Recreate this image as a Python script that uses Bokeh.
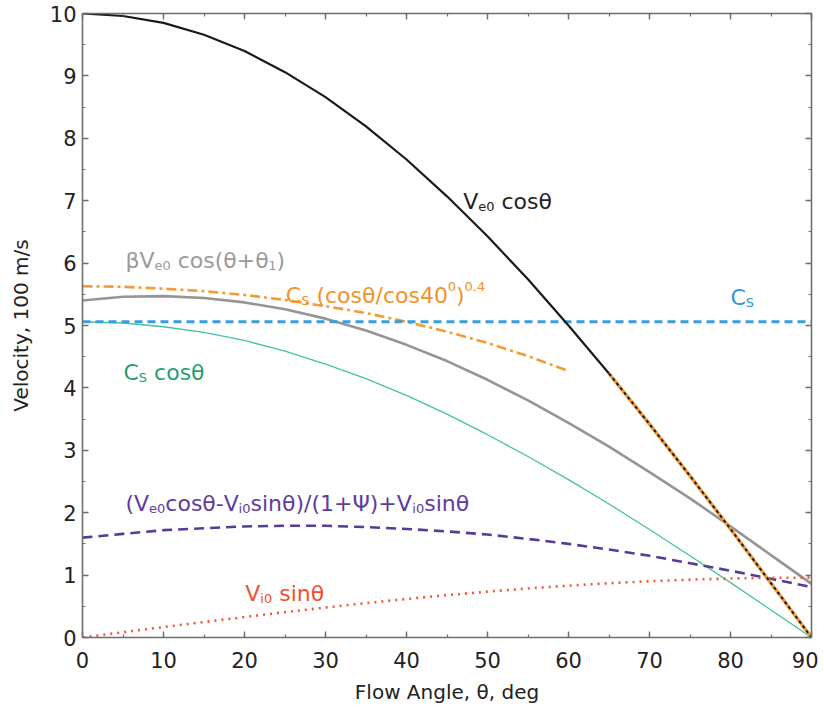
from bokeh.plotting import figure
from bokeh.models import LinearAxis, ColumnDataSource, Range1d, SingleIntervalTicker, CustomJSTickFormatter
from bokeh.embed import file_html
from bokeh.resources import INLINE
from bokeh.core.properties import value

# ---------------- data ----------------
theta = [0, 5, 10, 15, 20, 25, 30, 35, 40, 45, 50, 55, 60, 65, 70, 75, 80, 85, 90]
ve0_cos = [10.0, 9.96, 9.85, 9.66, 9.40, 9.06, 8.66, 8.19, 7.66, 7.07, 6.43, 5.74, 5.00,
           4.23, 3.42, 2.59, 1.74, 0.87, 0.0]
beta_ve0 = [5.40, 5.46, 5.47, 5.44, 5.37, 5.26, 5.11, 4.92, 4.69, 4.43, 4.13, 3.80, 3.44,
            3.06, 2.65, 2.23, 1.78, 1.32, 0.86]
cs_cos = [5.06, 5.04, 4.98, 4.89, 4.76, 4.59, 4.38, 4.15, 3.88, 3.58, 3.25, 2.90, 2.53,
          2.14, 1.73, 1.31, 0.88, 0.44, 0.0]
mixed = [1.60, 1.66, 1.72, 1.75, 1.78, 1.79, 1.79, 1.77, 1.74, 1.70, 1.65, 1.58, 1.50,
         1.41, 1.31, 1.19, 1.07, 0.94, 0.81]
vi0_sin = [0.0, 0.084, 0.167, 0.248, 0.328, 0.406, 0.48, 0.551, 0.617, 0.679, 0.735,
           0.786, 0.831, 0.870, 0.902, 0.927, 0.945, 0.956, 0.96]
theta_pow = [0, 5, 10, 15, 20, 25, 30, 35, 40, 45, 50, 55, 60]
cs_pow = [5.63, 5.62, 5.59, 5.55, 5.49, 5.41, 5.31, 5.20, 5.06, 4.90, 4.72, 4.51, 4.27]
cs_level = [5.06] * len(theta)
overlay_start = 13  # index of theta = 65 deg: orange/black overlay on Ve0 cos(theta)

FONT = "DejaVu Sans"

p = figure(frame_width=729, frame_height=624,
           x_range=Range1d(0, 90), y_range=Range1d(0, 10),
           output_backend="svg", toolbar_location=None,
           min_border_left=82, min_border_right=7, min_border_top=13, min_border_bottom=70,
           x_axis_label="Flow Angle, θ, deg", y_axis_label="Velocity, 100 m/s")
p.xgrid.visible = False
p.ygrid.visible = False
p.outline_line_color = None
p.background_fill_color = "white"
p.border_fill_color = "white"

AX_COL = "#6e6e6e"

def style_axis(ax, labels=True):
    ax.axis_line_color = AX_COL
    ax.axis_line_width = 1.6
    ax.major_tick_line_color = AX_COL
    ax.minor_tick_line_color = AX_COL
    ax.major_tick_line_width = 1.4
    ax.minor_tick_line_width = 1.2
    ax.major_tick_in = 6
    ax.major_tick_out = 0
    ax.minor_tick_in = 3
    ax.minor_tick_out = 0
    ax.major_label_text_font = FONT
    ax.axis_label_text_font = FONT
    ax.axis_label_text_font_style = "normal"
    ax.axis_label_text_color = "#222222"
    ax.major_label_text_color = "#222222"
    ax.major_label_text_font_size = "21px"
    ax.axis_label_text_font_size = "20px"
    if not labels:
        ax.formatter = CustomJSTickFormatter(code="return ''")
        ax.major_label_standoff = 0

p.xaxis.ticker = SingleIntervalTicker(interval=10, num_minor_ticks=2)
p.yaxis.ticker = SingleIntervalTicker(interval=1, num_minor_ticks=2)
for ax in p.xaxis + p.yaxis:
    style_axis(ax)
p.xaxis.major_label_standoff = 14
p.xaxis.axis_label_standoff = 9
p.yaxis.major_label_standoff = 6
p.yaxis.axis_label_standoff = 14

top = LinearAxis(ticker=SingleIntervalTicker(interval=10, num_minor_ticks=2))
right = LinearAxis(ticker=SingleIntervalTicker(interval=1, num_minor_ticks=2))
style_axis(top, labels=False)
style_axis(right, labels=False)
p.add_layout(top, "above")
p.add_layout(right, "right")

# ---------------- curves ----------------
src = ColumnDataSource(dict(theta=theta, ve0_cos=ve0_cos, beta_ve0=beta_ve0, cs_cos=cs_cos,
                            mixed=mixed, vi0_sin=vi0_sin, cs_level=cs_level))
p.line("theta", "cs_cos", source=src, line_color="#45c49a", line_width=1.3)
p.line("theta", "beta_ve0", source=src, line_color="#959595", line_width=2.6)
p.line("theta", "mixed", source=src, line_color="#5a3a98", line_width=2.6, line_dash="10 6")
p.line("theta", "vi0_sin", source=src, line_color="#f2563a", line_width=2.6, line_dash="2 5")
p.line(theta_pow, cs_pow, line_color="#f39a35", line_width=2.6, line_dash="10 4 3 4")
p.line("theta", "cs_level", source=src, line_color="#3b9ddd", line_width=3.2, line_dash="8 5")
p.line(theta[:overlay_start + 1], ve0_cos[:overlay_start + 1], line_color="#1a1a1a", line_width=2.2)
p.line(theta[overlay_start:], ve0_cos[overlay_start:], line_color="#f39a35", line_width=3.4)
p.line(theta[overlay_start:], ve0_cos[overlay_start:], line_color="#1a1a1a", line_width=2.0, line_dash="3 3")

# ---------------- curve labels (with sub/superscripts) ----------------
W = {' ': 0.318, '(': 0.390, ')': 0.390, '+': 0.838, ',': 0.318, '-': 0.361, '.': 0.318,
     '/': 0.337, 'C': 0.698, 'S': 0.635, 'V': 0.684, 'c': 0.550, 'e': 0.615, 'i': 0.278,
     'n': 0.634, 'o': 0.612, 's': 0.521, 'θ': 0.602, 'β': 0.635, 'Ψ': 0.818}
for d in "0123456789":
    W[d] = 0.636

BIG, SMALL = 22, 13
SHIFT = {"n": 0, "sub": 5, "sup": -9}

labels = [
    (47.0, 6.99, "#222222", [("V", "n"), ("e0", "sub"), (" cosθ", "n")]),
    (5.3, 6.04, "#9a9a9a", [("βV", "n"), ("e0", "sub"), (" cos(θ+θ", "n"), ("1", "sub"), (")", "n")]),
    (25.1, 5.48, "#f0932b", [("C", "n"), ("S", "sub"), (" (cosθ/cos40", "n"), ("0", "sup"),
                             (")", "n"), ("0.4", "sup")]),
    (80.0, 5.45, "#2f95db", [("C", "n"), ("S", "sub")]),
    (5.06, 4.25, "#1fa070", [("C", "n"), ("S", "sub"), (" cosθ", "n")]),
    (5.3, 2.15, "#5e3c9c", [("(V", "n"), ("e0", "sub"), ("cosθ-V", "n"), ("i0", "sub"),
                            ("sinθ)/(1+Ψ)+V", "n"), ("i0", "sub"), ("sinθ", "n")]),
    (20.1, 0.71, "#ef4f30", [("V", "n"), ("i0", "sub"), (" sinθ", "n")]),
]

tx, ty, tt, txo, tyo, tc, ts = [], [], [], [], [], [], []
for lx, ly, col, segs in labels:
    off = 0.0
    for s, kind in segs:
        size = BIG if kind == "n" else SMALL
        lead = len(s) - len(s.lstrip(" "))
        off += lead * W[' '] * size
        body = s.lstrip(" ")
        tx.append(lx); ty.append(ly); tt.append(body)
        txo.append(off); tyo.append(SHIFT[kind])
        tc.append(col); ts.append(f"{size}px")
        off += sum(W.get(ch, 0.6) for ch in body) * size

tsrc = ColumnDataSource(dict(x=tx, y=ty, text=tt, xo=txo, yo=tyo, color=tc, size=ts))
p.text("x", "y", text="text", source=tsrc, x_offset="xo", y_offset="yo",
       text_color="color", text_font_size="size", text_font=value(FONT),
       text_align="left", text_baseline="alphabetic")

open("out.html", "w").write(file_html(p, INLINE))
